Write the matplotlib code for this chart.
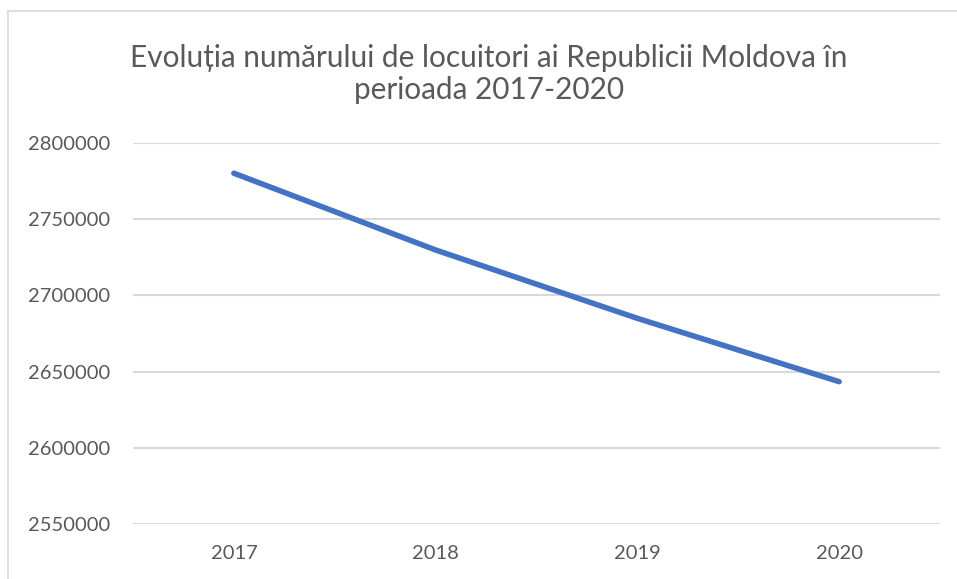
import matplotlib
matplotlib.use("Agg")
import matplotlib.pyplot as plt
from matplotlib.lines import Line2D

# data
years = ["2017", "2018", "2019", "2020"]
population = [2780000, 2729700, 2684900, 2643400]
y_ticks = [2550000, 2600000, 2650000, 2700000, 2750000, 2800000]

title = "Evoluția numărului de locuitori ai Republicii Moldova în\nperioada 2017-2020"

plt.rcParams["font.family"] = ["Lato", "DejaVu Sans"]
text_col = "#595959"
grid_col = "#D9D9D9"

fig = plt.figure(figsize=(9.57, 5.79), dpi=100)
ax = fig.add_axes([133 / 957, 1 - 524.2 / 579, (940 - 133) / 957, (524.2 - 142.7) / 579])

x = range(len(years))
ax.plot(x, population, color="#4472C4", lw=4, solid_capstyle="round",
        solid_joinstyle="round", zorder=3)

ax.set_xlim(-0.5, len(years) - 0.5)
ax.set_ylim(y_ticks[0], y_ticks[-1])
ax.set_xticks(list(x))
ax.set_xticklabels(years)
ax.set_yticks(y_ticks)
ax.set_yticklabels([str(v) for v in y_ticks])
ax.tick_params(length=0, labelsize=14.5, colors=text_col)
ax.tick_params(axis="y", pad=16.5)
ax.tick_params(axis="x", pad=15)
ax.grid(axis="y", color=grid_col, lw=1.5)
ax.set_axisbelow(True)
for s in ax.spines.values():
    s.set_visible(False)

# chart area border (only left and top edges fall inside the image)
fig.add_artist(Line2D([8 / 957, 8 / 957], [0, 1 - 11 / 579], transform=fig.transFigure,
                      color=grid_col, lw=1.2))
fig.add_artist(Line2D([8 / 957, 1], [1 - 11 / 579, 1 - 11 / 579], transform=fig.transFigure,
                      color=grid_col, lw=1.2))

fig.text(489 / 957, 1 - 74 / 579, title, ha="center", va="center", fontsize=21.4,
         color=text_col, linespacing=1.2)

fig.savefig("out.png", dpi=100, facecolor="white")
